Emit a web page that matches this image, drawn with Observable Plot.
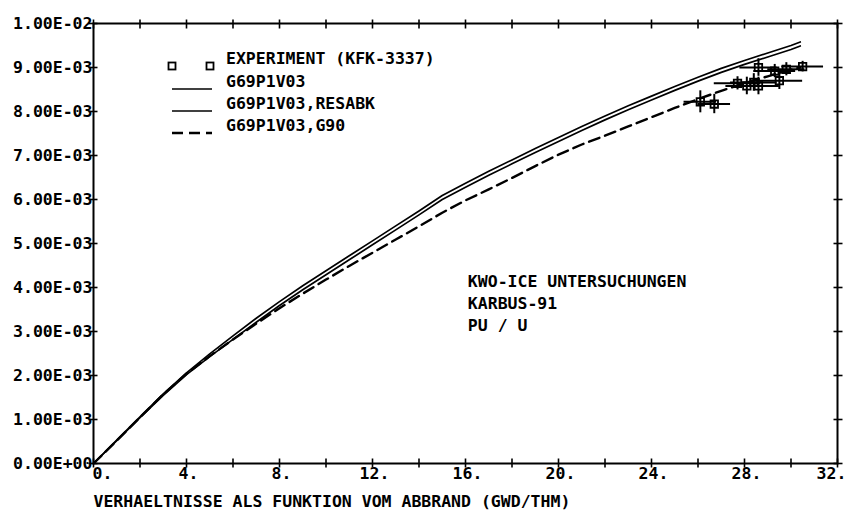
<!DOCTYPE html>
<html>
<head>
<meta charset="utf-8">
<script src="https://cdn.jsdelivr.net/npm/d3@7"></script>
<script src="https://cdn.jsdelivr.net/npm/@observablehq/plot@0.6"></script>
<style>
  html, body { margin: 0; padding: 0; background: #fff; overflow: hidden; }
  #chart svg { display: block; }
</style>
</head>
<body>
<div id="chart"></div>
<script>
// ---- data (y values in units of 1E-03) ----
const burnup = [0, 1, 2, 3, 4, 5, 6, 7, 8, 9, 10, 11, 12, 13, 14, 15, 16, 17, 18, 19, 20, 21, 22, 23, 24, 25, 26, 27, 28, 29, 30, 30.4];
const g69p1v03 = [0, 0.52, 1.04, 1.55, 2.02, 2.43, 2.82, 3.21, 3.59, 3.95, 4.29, 4.63, 4.97, 5.31, 5.65, 6.00, 6.28, 6.55, 6.81, 7.07, 7.32, 7.57, 7.81, 8.04, 8.26, 8.48, 8.69, 8.89, 9.07, 9.24, 9.41, 9.49];
const g69Resabk = [0, 0.53, 1.06, 1.58, 2.06, 2.49, 2.90, 3.30, 3.68, 4.04, 4.38, 4.72, 5.06, 5.40, 5.74, 6.09, 6.37, 6.64, 6.90, 7.16, 7.41, 7.66, 7.90, 8.13, 8.35, 8.57, 8.78, 8.98, 9.16, 9.33, 9.50, 9.58];
const g69G90 = [0, 0.52, 1.05, 1.57, 2.04, 2.44, 2.82, 3.18, 3.53, 3.86, 4.18, 4.49, 4.79, 5.09, 5.39, 5.70, 5.98, 6.23, 6.49, 6.76, 7.02, 7.25, 7.45, 7.66, 7.87, 8.08, 8.28, 8.47, 8.64, 8.80, 8.95, 9.00];

const expBurnup = [26.1, 26.7, 27.7, 28.1, 28.4, 28.6, 28.6, 29.3, 29.5, 29.8, 30.5];
const expRatio  = [8.22, 8.17, 8.64, 8.58, 8.66, 9.00, 8.58, 8.92, 8.70, 8.96, 9.02];
const expBurnupErr = [0.7, 0.7, 1.0, 0.9, 1.0, 0.8, 0.9, 0.9, 1.0, 0.8, 0.9];
const expRatioErr  = [0.25, 0.22, 0.15, 0.20, 0.20, 0.20, 0.20, 0.15, 0.20, 0.15, 0.12];

const yTicks = [0, 1, 2, 3, 4, 5, 6, 7, 8, 9, 10];
const yTickLabels = ["0.00E+00", "1.00E-03", "2.00E-03", "3.00E-03", "4.00E-03", "5.00E-03", "6.00E-03", "7.00E-03", "8.00E-03", "9.00E-03", "1.00E-02"];
const xMinorTicks = [0, 2, 4, 6, 8, 10, 12, 14, 16, 18, 20, 22, 24, 26, 28, 30, 32];
const xTicks = [0, 4, 8, 12, 16, 20, 24, 28, 32];
const xTickLabels = ["0.", "4.", "8.", "12.", "16.", "20.", "24.", "28.", "32."];

const seriesNames = ["EXPERIMENT (KFK-3337)", "G69P1V03", "G69P1V03,RESABK", "G69P1V03,G90"];
const xTitle = "VERHAELTNISSE ALS FUNKTION VOM ABBRAND (GWD/THM)";
const note = "KWO-ICE UNTERSUCHUNGEN\nKARBUS-91\nPU / U";

// ---- tables ----
const E = 1e-3;
const line = (vals) => burnup.map((x, i) => ({x, y: vals[i] * E}));
const exp = expBurnup.map((x, i) => ({x, y: expRatio[i] * E, xe: expBurnupErr[i], ye: expRatioErr[i] * E}));
const xLabel = d => xTickLabels[xTicks.indexOf(d)];

const FONT = "'DejaVu Sans Mono', monospace";
const W = 848, H = 519;

const plot = Plot.plot({
  width: W, height: H,
  marginLeft: 93, marginRight: 11, marginTop: 23, marginBottom: 56,
  x: {domain: [0, 32]},
  y: {domain: [0, 0.01]},
  style: {fontFamily: FONT, fontSize: "16.5px", fontWeight: "bold", color: "#000", background: "#fff"},
  marks: [
    Plot.frame({stroke: "#000", strokeWidth: 2}),
    // cross ticks on all four sides
    Plot.axisX(xMinorTicks, {anchor: "bottom", tickSize: 9, dy: -4.5, tickFormat: () => "", label: null, strokeWidth: 1.6}),
    Plot.axisX(xMinorTicks, {anchor: "top", tickSize: 9, dy: 4.5, tickFormat: () => "", label: null, strokeWidth: 1.6}),
    Plot.axisY(yTicks.map(v => v * E), {anchor: "left", tickSize: 9, dx: 4.5, tickFormat: () => "", label: null, strokeWidth: 1.6}),
    Plot.axisY(yTicks.map(v => v * E), {anchor: "right", tickSize: 9, dx: -4.5, tickFormat: () => "", label: null, strokeWidth: 1.6}),
    // tick labels
    Plot.axisX(xTicks.slice(0, 1), {anchor: "bottom", tickSize: 0, tickPadding: 4, dx: 9, label: null, tickFormat: xLabel}),
    Plot.axisX(xTicks.slice(1, -1), {anchor: "bottom", tickSize: 0, tickPadding: 4, dx: 2, label: null, tickFormat: xLabel}),
    Plot.axisX(xTicks.slice(-1), {anchor: "bottom", tickSize: 0, tickPadding: 4, dx: -6, label: null, tickFormat: xLabel}),
    Plot.axisY(yTicks.map(v => v * E), {anchor: "left", tickSize: 0, tickPadding: 1, label: null,
      tickFormat: d => yTickLabels[Math.round(d / E)]}),
    // curves
    Plot.line(line(g69p1v03), {x: "x", y: "y", stroke: "#000", strokeWidth: 1.7}),
    Plot.line(line(g69Resabk), {x: "x", y: "y", stroke: "#000", strokeWidth: 1.7}),
    Plot.line(line(g69G90), {x: "x", y: "y", stroke: "#000", strokeWidth: 2.4, strokeDasharray: "11,6"}),
    // experiment with error bars
    Plot.ruleY(exp, {y: "y", x1: d => d.x - d.xe, x2: d => d.x + d.xe, stroke: "#000", strokeWidth: 2}),
    Plot.ruleX(exp, {x: "x", y1: d => d.y - d.ye, y2: d => d.y + d.ye, stroke: "#000", strokeWidth: 2}),
    Plot.dot(exp, {x: "x", y: "y", symbol: "square", r: 4.2, stroke: "#000", strokeWidth: 1.8, fill: "none"}),
    // annotation
    Plot.text([note], {x: 16.1, y: 0.0042, text: d => d, textAnchor: "start", lineAnchor: "top", lineHeight: 1.33, dy: -7}),
    // x axis title
    Plot.text([xTitle], {frameAnchor: "bottom-left", text: d => d, textAnchor: "start", dy: 43, dx: 0})
  ]
});

document.getElementById("chart").appendChild(plot);

// ---- legend (top-left inside the frame) ----
const svg = d3.select(plot);
const lg = svg.append("g").attr("font-family", FONT).attr("font-size", "16.5px")
  .attr("font-weight", "bold").attr("text-anchor", "start");
const textX = 226, rowY = [58, 81, 103, 125], symX1 = 172, symX2 = 212, symOff = 8;
seriesNames.forEach((name, i) => {
  lg.append("text").attr("x", textX).attr("y", rowY[i]).attr("dy", "0.35em").attr("text-anchor", "start").text(name);
});
[symX1, symX2 - 2].forEach(x => {
  lg.append("rect").attr("x", x - 3.5).attr("y", rowY[0] + symOff - 3.5).attr("width", 7).attr("height", 7)
    .attr("fill", "none").attr("stroke", "#000").attr("stroke-width", 1.8);
});
[[1, null, 1.7], [2, null, 1.7], [3, "11,6", 2.4]].forEach(([i, dash, w]) => {
  const l = lg.append("line").attr("x1", symX1).attr("x2", symX2).attr("y1", rowY[i] + symOff).attr("y2", rowY[i] + symOff)
    .attr("stroke", "#000").attr("stroke-width", w);
  if (dash) l.attr("stroke-dasharray", dash);
});
</script>
</body>
</html>
